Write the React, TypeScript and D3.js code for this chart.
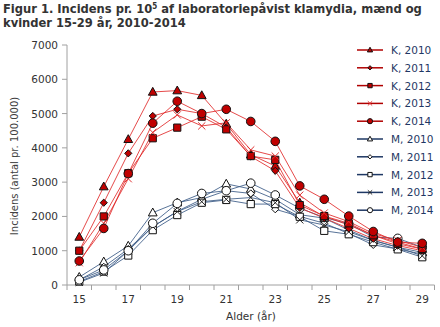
import React from "react";
import * as d3 from "d3";

const ages = [15, 16, 17, 18, 19, 20, 21, 22, 23, 24, 25, 26, 27, 28, 29];
const xTickLabels = [15, 17, 19, 21, 23, 25, 27, 29];
const yTicks = [0, 1000, 2000, 3000, 4000, 5000, 6000, 7000];

const seriesNames = ["K, 2010", "K, 2011", "K, 2012", "K, 2013", "K, 2014", "M, 2010", "M, 2011", "M, 2012", "M, 2013", "M, 2014"];
const seriesShapes = ["triangle", "diamond", "square", "x", "circle", "triangle", "diamond", "square", "x", "circle"];
const seriesGroup = ["K", "K", "K", "K", "K", "M", "M", "M", "M", "M"];

const k2010 = [1400, 2870, 4250, 5630, 5670, 5530, 4700, 3800, 3470, 2400, 2000, 1750, 1450, 1250, 1050];
const k2011 = [1000, 2400, 3840, 4930, 5125, 5000, 4600, 3750, 3330, 2250, 1950, 1650, 1350, 1150, 1000];
const k2012 = [1000, 2000, 3260, 4280, 4590, 4910, 4540, 3760, 3650, 2330, 2010, 1800, 1450, 1200, 1050];
const k2013 = [650, 1800, 3100, 4450, 4960, 4640, 4730, 3940, 3760, 2620, 2100, 1850, 1500, 1300, 1100];
const k2014 = [700, 1650, 3250, 4720, 5360, 5000, 5125, 4770, 4190, 2890, 2500, 2010, 1560, 1250, 1215];
const m2010 = [230, 680, 1140, 2110, 2400, 2550, 2950, 2800, 2500, 2050, 1950, 1600, 1300, 1100, 950];
const m2011 = [150, 530, 1050, 1700, 2150, 2500, 2750, 2670, 2210, 2000, 1800, 1500, 1170, 1050, 900];
const m2012 = [100, 390, 860, 1600, 2040, 2400, 2480, 2360, 2360, 1990, 1580, 1480, 1250, 1040, 810];
const m2013 = [80, 350, 1000, 1700, 2140, 2430, 2500, 2550, 2400, 1900, 1750, 1550, 1300, 1100, 850];
const m2014 = [150, 440, 1000, 1800, 2380, 2670, 2750, 2970, 2625, 2240, 1970, 1780, 1400, 1360, 1100];

const seriesValues = [k2010, k2011, k2012, k2013, k2014, m2010, m2011, m2012, m2013, m2014];

const TITLE_FONT = "Tahoma, 'DejaVu Sans Condensed', 'DejaVu Sans', sans-serif";
const FONT = "Verdana, 'DejaVu Sans', sans-serif";

function markerPath(shape: string, r: number): string {
  switch (shape) {
    case "triangle":
      return `M0,${-r}L${r * 0.95},${r * 0.7}L${-r * 0.95},${r * 0.7}Z`;
    case "diamond":
      return `M0,${-r}L${r},0L0,${r}L${-r},0Z`;
    case "square":
      return `M${-r},${-r}H${r}V${r}H${-r}Z`;
    case "x":
      return `M${-r},${-r}L${r},${r}M${r},${-r}L${-r},${r}`;
    default:
      return d3.symbol(d3.symbolCircle, Math.PI * r * r)() || "";
  }
}

function Marker({ shape, group, x, y, scale }: { shape: string; group: string; x: number; y: number; scale: number }) {
  const base: Record<string, number> = { triangle: 4.6, diamond: 3.6, square: 3.6, x: 3.6, circle: 4.3 };
  const r = base[shape] * scale;
  const fill = group === "K" ? "#c00000" : "#ffffff";
  if (shape === "x") {
    return (
      <path
        d={markerPath(shape, r)}
        transform={`translate(${x},${y})`}
        fill="none"
        stroke={group === "K" ? "#e03030" : "#222"}
        strokeWidth={1}
      />
    );
  }
  return (
    <path
      d={markerPath(shape, r)}
      transform={`translate(${x},${y})`}
      fill={fill}
      stroke="#111"
      strokeWidth={1}
    />
  );
}

export default function App() {
  const width = 440;
  const height = 327;
  const left = 67;
  const top = 45;
  const bottom = 285;
  const band = 24.5;

  const x = d3
    .scaleBand<number>()
    .domain(ages)
    .range([left, left + band * ages.length])
    .paddingInner(0)
    .paddingOuter(0);
  const y = d3.scaleLinear().domain([0, 7000]).range([bottom, top]);
  const cx = (a: number) => (x(a) as number) + x.bandwidth() / 2;

  const line = d3
    .line<number>()
    .x((_, i) => cx(ages[i]))
    .y((v) => y(v));

  const order = [5, 6, 7, 8, 9, 0, 1, 2, 3, 4];

  return (
    <svg width={width} height={height} style={{ display: "block", position: "absolute", left: 0, top: 0 }}>
      <rect width={width} height={height} fill="#fff" />
      <text x={3} y={13} fontFamily={TITLE_FONT} fontWeight="bold" fontSize={12.8} fill="#333">
        Figur 1. Incidens pr. 10<tspan fontSize={8} dy={-4}>5</tspan>
        <tspan dy={4}> af laboratoriepåvist klamydia, mænd og</tspan>
      </text>
      <text x={3} y={27} fontFamily={TITLE_FONT} fontWeight="bold" fontSize={12.8} fill="#333">
        kvinder 15-29 år, 2010-2014
      </text>

      {/* axes */}
      <line x1={left} x2={left} y1={top} y2={bottom} stroke="#a0a0a0" />
      <line x1={left} x2={left + band * ages.length} y1={bottom} y2={bottom} stroke="#a0a0a0" />
      {yTicks.map((t) => (
        <g key={t}>
          <line x1={left - 5} x2={left} y1={y(t)} y2={y(t)} stroke="#a0a0a0" />
          <text x={left - 9} y={y(t) + 4} textAnchor="end" fontFamily={FONT} fontSize={10.5} fill="#333">
            {t}
          </text>
        </g>
      ))}
      {ages.map((a) => (
        <line key={a} x1={x(a) as number} x2={x(a) as number} y1={bottom} y2={bottom + 5} stroke="#a0a0a0" />
      ))}
      <line
        x1={left + band * ages.length}
        x2={left + band * ages.length}
        y1={bottom}
        y2={bottom + 5}
        stroke="#a0a0a0"
      />
      {xTickLabels.map((a) => (
        <text key={a} x={cx(a)} y={303} textAnchor="middle" fontFamily={FONT} fontSize={10.5} fill="#333">
          {a}
        </text>
      ))}
      <text x={251} y={320} textAnchor="middle" fontFamily={FONT} fontSize={10.5} fill="#333">
        Alder (år)
      </text>
      <text
        transform={`translate(18,166) rotate(-90)`}
        textAnchor="middle"
        fontFamily={FONT}
        fontSize={10}
        fill="#404040"
      >
        Incidens (antal pr. 100.000)
      </text>

      {/* series lines */}
      {order.map((i) => (
        <path
          key={"l" + i}
          d={line(seriesValues[i]) || ""}
          fill="none"
          stroke={seriesGroup[i] === "K" ? "#e02a2a" : "#3b5b86"}
          strokeOpacity={0.85}
          strokeWidth={1}
        />
      ))}
      {order.map((i) => (
        <g key={"m" + i}>
          {seriesValues[i].map((v, j) => (
            <Marker key={j} shape={seriesShapes[i]} group={seriesGroup[i]} x={cx(ages[j])} y={y(v)} scale={1} />
          ))}
        </g>
      ))}

      {/* legend */}
      {seriesNames.map((name, i) => {
        const ly = 50 + i * 17.8;
        return (
          <g key={name}>
            <line
              x1={357}
              x2={383}
              y1={ly}
              y2={ly}
              stroke={seriesGroup[i] === "K" ? "#b00000" : "#1f3864"}
              strokeWidth={1.5}
            />
            <Marker shape={seriesShapes[i]} group={seriesGroup[i]} x={370} y={ly} scale={0.6} />
            <text x={391} y={ly + 4} fontFamily={FONT} fontSize={10.5} fill="#1f3864">
              {name}
            </text>
          </g>
        );
      })}
    </svg>
  );
}
